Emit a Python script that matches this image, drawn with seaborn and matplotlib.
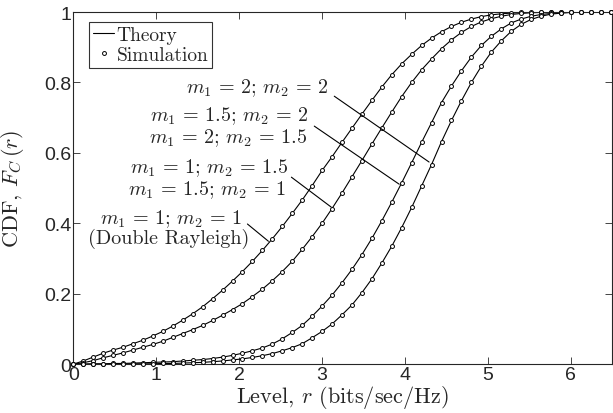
import numpy as np
import pandas as pd
import seaborn as sns
import matplotlib
matplotlib.use("Agg")
import matplotlib.pyplot as plt
from matplotlib.lines import Line2D

# level r (bits/sec/Hz), sampled every 0.12
r_level = [0.00, 0.12, 0.24, 0.36, 0.48, 0.60, 0.72, 0.84, 0.96, 1.08,
           1.20, 1.32, 1.44, 1.56, 1.68, 1.80, 1.92, 2.04, 2.16, 2.28,
           2.40, 2.52, 2.64, 2.76, 2.88, 3.00, 3.12, 3.24, 3.36, 3.48,
           3.60, 3.72, 3.84, 3.96, 4.08, 4.20, 4.32, 4.44, 4.56, 4.68,
           4.80, 4.92, 5.04, 5.16, 5.28, 5.40, 5.52, 5.64, 5.76, 5.88,
           6.00, 6.12, 6.24, 6.36, 6.48]

# m1 = 1; m2 = 1 (double Rayleigh)
cdf_m11 = [0.000, 0.009, 0.020, 0.031, 0.040, 0.048, 0.058, 0.068, 0.080, 0.093,
           0.108, 0.125, 0.143, 0.163, 0.186, 0.210, 0.236, 0.263, 0.292, 0.323,
           0.356, 0.391, 0.428, 0.466, 0.507, 0.550, 0.589, 0.630, 0.670, 0.710,
           0.749, 0.787, 0.822, 0.853, 0.880, 0.905, 0.926, 0.944, 0.959, 0.971,
           0.980, 0.987, 0.992, 0.995, 0.997, 0.999, 1.000, 1.000, 1.000, 1.000,
           1.000, 1.000, 1.000, 1.000, 1.000]
# m1 = 1; m2 = 1.5  and  m1 = 1.5; m2 = 1
cdf_m1_15 = [0.000, 0.004, 0.010, 0.018, 0.025, 0.032, 0.040, 0.048, 0.056, 0.065,
             0.076, 0.087, 0.098, 0.110, 0.124, 0.139, 0.155, 0.172, 0.192, 0.213,
             0.237, 0.263, 0.292, 0.326, 0.362, 0.400, 0.442, 0.486, 0.532, 0.578,
             0.625, 0.671, 0.716, 0.760, 0.800, 0.836, 0.867, 0.896, 0.921, 0.942,
             0.959, 0.972, 0.981, 0.988, 0.993, 0.996, 0.998, 0.999, 1.000, 1.000,
             1.000, 1.000, 1.000, 1.000, 1.000]
# m1 = 1.5; m2 = 2  and  m1 = 2; m2 = 1.5
cdf_m15_2 = [0.000, 0.000, 0.001, 0.001, 0.002, 0.002, 0.003, 0.004, 0.005, 0.006,
             0.007, 0.009, 0.011, 0.013, 0.016, 0.020, 0.025, 0.031, 0.038, 0.046,
             0.057, 0.072, 0.090, 0.110, 0.136, 0.165, 0.196, 0.231, 0.269, 0.311,
             0.357, 0.407, 0.460, 0.515, 0.572, 0.630, 0.686, 0.743, 0.790, 0.833,
             0.872, 0.905, 0.931, 0.952, 0.969, 0.980, 0.988, 0.993, 0.996, 0.998,
             0.999, 1.000, 1.000, 1.000, 1.000]
# m1 = 2; m2 = 2
cdf_m22 = [0.000, 0.000, 0.000, 0.000, 0.000, 0.000, 0.001, 0.001, 0.001, 0.002,
           0.002, 0.003, 0.004, 0.005, 0.007, 0.009, 0.012, 0.015, 0.019, 0.024,
           0.030, 0.038, 0.047, 0.058, 0.075, 0.093, 0.114, 0.140, 0.168, 0.203,
           0.242, 0.287, 0.335, 0.388, 0.445, 0.506, 0.567, 0.632, 0.692, 0.748,
           0.800, 0.846, 0.886, 0.918, 0.945, 0.965, 0.979, 0.988, 0.994, 0.997,
           0.999, 1.000, 1.000, 1.000, 1.000]

x_ticks = [0, 1, 2, 3, 4, 5, 6]
y_ticks = [0, 0.2, 0.4, 0.6, 0.8, 1]
y_ticklabels = ["0", "0.2", "0.4", "0.6", "0.8", "1"]


def plot_cdf():
    sns.set_style("ticks")
    plt.rcParams["mathtext.fontset"] = "cm"
    plt.rcParams["font.family"] = ["Liberation Sans", "DejaVu Sans"]
    plt.rcParams["xtick.direction"] = "in"
    plt.rcParams["ytick.direction"] = "in"

    df = pd.DataFrame({"r": r_level * 4,
                       "F": cdf_m11 + cdf_m1_15 + cdf_m15_2 + cdf_m22,
                       "case": np.repeat(["11", "1_15", "15_2", "22"], len(r_level))})

    fig = plt.figure(figsize=(6.13, 4.14), dpi=100)
    ax = fig.add_axes([0.1195, 0.118, 0.8795, 0.8505])

    sns.lineplot(data=df, x="r", y="F", units="case", estimator=None,
                 color="black", lw=0.8, ax=ax, legend=False)
    sns.scatterplot(data=df, x="r", y="F", marker="o", s=8, color="white",
                    edgecolor="black", linewidth=0.7, ax=ax, legend=False,
                    zorder=3, clip_on=False)

    ax.set_xlim(0, 6.5)
    ax.set_ylim(0, 1)
    ax.set_xticks(x_ticks)
    ax.set_yticks(y_ticks)
    ax.set_yticklabels(y_ticklabels)
    ax.tick_params(labelsize=14, length=5, width=0.6, top=True, right=True, pad=1.5)
    for s in ax.spines.values():
        s.set_linewidth(0.8)
        s.set_visible(True)

    cm = "cmr10"
    fs = 14.5
    ax.set_xlabel("Level, $r$ (bits/sec/Hz)", fontfamily=cm, fontsize=16, labelpad=0)
    ax.set_ylabel("CDF, $F_C\\,(r)$", fontfamily=cm, fontsize=16)
    ax.yaxis.set_label_coords(-0.088, 0.5)

    # labels and pointer lines
    tk = dict(fontfamily=cm, fontsize=fs, ha="center", va="center")
    ax.text(2.221, 0.787, "$m_1\\,=\\,2$; $m_2\\,=\\,2$", **tk)
    ax.text(1.885, 0.706, "$m_1\\,=\\,1.5$; $m_2\\,=\\,2$", **tk)
    ax.text(1.873, 0.646, "$m_1\\,=\\,2$; $m_2\\,=\\,1.5$", **tk)
    ax.text(1.644, 0.561, "$m_1\\,=\\,1$; $m_2\\,=\\,1.5$", **tk)
    ax.text(1.614, 0.497, "$m_1\\,=\\,1.5$; $m_2\\,=\\,1$", **tk)
    ax.text(1.181, 0.416, "$m_1\\,=\\,1$; $m_2\\,=\\,1$", **tk)
    ax.text(1.145, 0.358, "(Double Rayleigh)", **tk)
    arr = dict(arrowstyle="-", lw=0.8, color="black", shrinkA=0, shrinkB=0)
    ax.annotate("", xy=(4.29, 0.574), xytext=(3.147, 0.761), arrowprops=arr)
    ax.annotate("", xy=(3.93, 0.511), xytext=(2.906, 0.676), arrowprops=arr)
    ax.annotate("", xy=(3.11, 0.446), xytext=(2.63, 0.531), arrowprops=arr)
    ax.annotate("", xy=(2.353, 0.349), xytext=(2.10, 0.398), arrowprops=arr)

    handles = [Line2D([], [], color="black", lw=0.8),
               Line2D([], [], color="black", lw=0, marker="o", markersize=2.8,
                      markerfacecolor="white", markeredgewidth=0.7)]
    leg = ax.legend(handles, ["Theory", "Simulation"], loc="upper left",
                    bbox_to_anchor=(0.0296, 0.9716),
                    prop={"family": cm, "size": 14}, frameon=True, fancybox=False,
                    edgecolor="black", handlelength=1.1, handletextpad=0.1,
                    borderpad=0.2, labelspacing=0.1, borderaxespad=0)
    leg.get_frame().set_linewidth(0.8)

    fig.savefig("out.png", dpi=100)


if __name__ == "__main__":
    plot_cdf()
